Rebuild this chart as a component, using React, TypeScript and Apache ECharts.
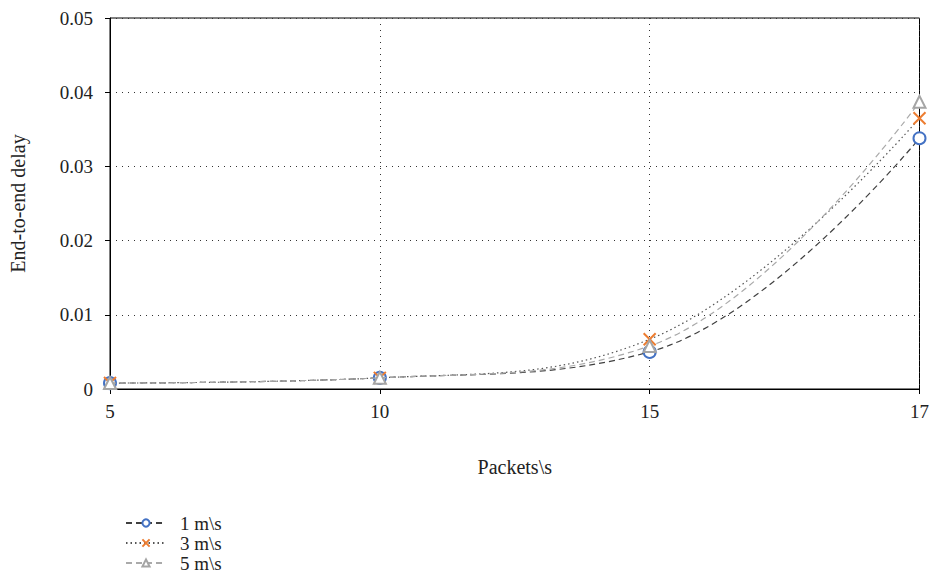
import React, { useEffect, useRef } from "react";
import * as echarts from "echarts";

const categories = ["5", "10", "15", "17"];
const s1 = [0.0008, 0.0015, 0.005, 0.0338];
const s3 = [0.0008, 0.0015, 0.0067, 0.0365];
const s5 = [0.0008, 0.0015, 0.0058, 0.0387];
const names = ["1 m\\s", "3 m\\s", "5 m\\s"];

const FONT = "'Liberation Serif', 'DejaVu Serif', serif";
const X_PATH = "path://M0,0L10,10M10,0L0,10";
const TXT = "#222";

export default function App() {
  const ref = useRef<HTMLDivElement>(null);
  useEffect(() => {
    const chart = echarts.init(ref.current!, null, { renderer: "svg" });
    chart.setOption({
      animation: false,
      textStyle: { fontFamily: FONT },
      grid: { left: 110, right: 10, top: 18, bottom: 187, show: true, borderColor: "#000", borderWidth: 1 },
      legend: {
        orient: "vertical",
        left: 125,
        top: 513,
        padding: 0,
        itemGap: 0,
        itemWidth: 40,
        itemHeight: 9,
        textStyle: { fontFamily: FONT, fontSize: 19, lineHeight: 20, color: TXT, padding: [0, 0, 0, 9] },
        data: names,
      },
      xAxis: {
        type: "category",
        data: categories,
        boundaryGap: false,
        name: "Packets\\s",
        nameLocation: "middle",
        nameGap: 68,
        nameTextStyle: { fontFamily: FONT, fontSize: 20, color: TXT },
        axisLine: { lineStyle: { color: "#000" } },
        axisTick: { lineStyle: { color: "#000" }, length: 5 },
        axisLabel: { fontFamily: FONT, fontSize: 19, color: TXT, margin: 13 },
        splitLine: { show: true, lineStyle: { color: "#333", type: [1, 5] } },
      },
      yAxis: {
        type: "value",
        min: 0,
        max: 0.05,
        interval: 0.01,
        name: "End-to-end delay",
        nameLocation: "middle",
        nameGap: 82,
        nameTextStyle: { fontFamily: FONT, fontSize: 20, color: TXT },
        axisLine: { show: true, lineStyle: { color: "#000" } },
        axisTick: { show: true, lineStyle: { color: "#000" }, length: 5 },
        axisLabel: {
          fontFamily: FONT,
          fontSize: 19,
          color: TXT,
          margin: 17,
          formatter: (v: number) => (v === 0 ? "0" : v.toFixed(2)),
        },
        splitLine: { show: true, lineStyle: { color: "#333", type: [1, 5] } },
      },
      series: [
        {
          name: names[0],
          type: "line",
          data: s1,
          smooth: 0.4,
          symbol: "emptyCircle",
          symbolSize: 12,
          z: 3,
          lineStyle: { color: "#404040", width: 1.2, type: [6, 4] },
          itemStyle: { color: "#4472C4", borderColor: "#4472C4", borderWidth: 1.8 },
        },
        {
          name: names[1],
          type: "line",
          data: s3,
          smooth: 0.4,
          symbol: X_PATH,
          symbolSize: 12,
          z: 4,
          lineStyle: { color: "#555", width: 1.2, type: [1.5, 3] },
          itemStyle: { color: "none", borderColor: "#ED7D31", borderWidth: 2 },
        },
        {
          name: names[2],
          type: "line",
          data: s5,
          smooth: 0.4,
          symbol: "emptyTriangle",
          symbolSize: 12,
          z: 5,
          lineStyle: { color: "#AAAAAA", width: 1.2, type: [6, 4] },
          itemStyle: { color: "#A5A5A5", borderColor: "#A5A5A5", borderWidth: 1.8 },
        },
      ],
    });
    return () => chart.dispose();
  }, []);
  return <div ref={ref} style={{ width: 932, height: 576, position: "absolute", left: 0, top: 0 }} />;
}
